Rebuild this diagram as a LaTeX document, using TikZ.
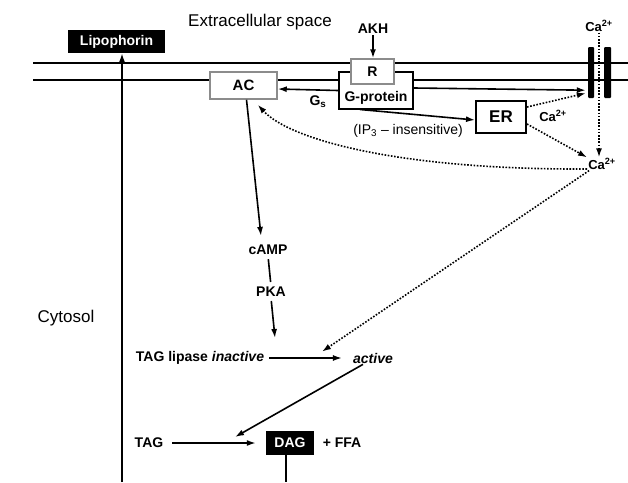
\documentclass[tikz,border=0pt]{standalone}
\usepackage{fontspec}
\setmainfont{Liberation Sans}
\usetikzlibrary{arrows.meta,calc}
\begin{document}
\begin{tikzpicture}[x=1pt,y=-1pt,
  lbl/.style={font=\fontsize{14}{16}\selectfont\bfseries, inner sep=1pt},
  big/.style={font=\fontsize{17}{20}\selectfont, inner sep=1pt},
  plain/.style={font=\fontsize{14}{16}\selectfont, inner sep=1pt},
  graybox/.style={draw=black!45, line width=1.5pt, fill=white, inner sep=0pt, font=\fontsize{14}{16}\selectfont\bfseries},
  blackbox/.style={draw=black, line width=2pt, fill=white, inner sep=0pt},
  darkbox/.style={fill=black, text=white, inner sep=0pt, font=\fontsize{14}{16}\selectfont\bfseries},
  chbar/.style={fill=black, inner sep=0pt, rounded corners=1pt},
  arr/.style={line width=1.6pt, -{Latex[length=9pt,width=6pt]}},
  dotarr/.style={line width=1.6pt, dash pattern=on 1.6pt off 1.6pt, -{Latex[length=9pt,width=6pt]}},
  memb/.style={line width=2pt}
]
\fill[white] (0,0) rectangle (628,482);
\useasboundingbox (0,0) rectangle (628,482);

% membrane
\coordinate (m1l) at (33,63);  \coordinate (m1r) at (628,63);
\coordinate (m2l) at (33,80);  \coordinate (m2r) at (628,80);
\draw[memb] (m1l) -- (m1r);
\draw[memb] (m2l) -- (m2r);

% texts
\node[big] (ext) at (260,22) {Extracellular space};
\node[big] (cyto) at (66,318) {Cytosol};

% boxes
\node[darkbox, minimum width=97, minimum height=23] (lipo) at (116.5,41.5) {Lipophorin};
\node[graybox, minimum width=67, minimum height=27, font=\fontsize{15}{17}\selectfont\bfseries] (ac) at (243.5,85.5) {AC};
\node[blackbox, minimum width=74, minimum height=37] (gp) at (376,90) {};
\node[lbl] (gptext) at (376,97.5) {G-protein};
\node[graybox, minimum width=43, minimum height=25] (r) at (372.5,71.5) {R};
\node[blackbox, minimum width=50, minimum height=32, font=\fontsize{17}{20}\selectfont\bfseries] (er) at (501,117) {ER};
\node[chbar, minimum width=6, minimum height=51] (ch1) at (591,72.5) {};
\node[chbar, minimum width=7, minimum height=51] (ch2) at (607.5,72.5) {};
\node[darkbox, minimum width=48, minimum height=24] (dag) at (290,443) {DAG};

% labels
\node[lbl] (akh) at (373,29) {AKH};
\node[lbl] (gs) at (318,102) {G\textsubscript{s}};
\node[plain] (ip3) at (408,131) {(IP\textsubscript{3} – insensitive)};
\node[lbl, font=\fontsize{13}{15}\selectfont\bfseries] (ca1) at (599,26) {Ca\textsuperscript{2+}};
\node[lbl, font=\fontsize{13}{15}\selectfont\bfseries] (ca2) at (553,116) {Ca\textsuperscript{2+}};
\node[lbl, font=\fontsize{13}{15}\selectfont\bfseries] (ca3) at (602,164) {Ca\textsuperscript{2+}};
\node[lbl] (camp) at (268,250) {cAMP};
\node[lbl] (pka) at (271,292) {PKA};
\node[lbl] (tagl) at (200,358) {TAG lipase \textit{inactive}};
\node[lbl] (act) at (373,358) {\textit{active}};
\node[lbl] (tag) at (149,443) {TAG};
\node[lbl] (ffa) at (342,443) {+ FFA};

% free ends
\coordinate (lipobot) at (122,482);
\coordinate (pkaend) at (275,338);
\coordinate (join) at (235,437);
\coordinate (dagbot) at (286,482);

% connectors
\draw[arr] (lipobot) -- (lipo.south -| lipobot);
\draw[arr] (akh.south) -- (r.north -| akh.south);
\draw[arr] ([yshift=-0.5pt]gp.west) -- ([yshift=-3.5pt]ac.east);
\draw[arr] ([yshift=2pt]gp.east) -- ([xshift=-2pt,yshift=8pt]ch1.south west);
\draw[arr] ([xshift=-16pt]gp.south) -- ([yshift=-3pt]er.west);
\draw[dotarr] ([yshift=-7pt]er.north east) -- ([xshift=-2pt,yshift=5pt]ch1.south west);
\draw[dotarr] ([yshift=10pt]er.south east) -- (ca3.north west);
\draw[dotarr] (ca1.south) -- (ca3.north -| ca1.south);
\draw[dotarr] ([yshift=-5pt]ca3.west) .. controls (400,170) and (290,140) .. ([xshift=-20pt,yshift=-5pt]ac.south east);
\draw[dotarr] ([xshift=2pt]ca3.south west) -- ([xshift=-30pt]act.north west);
\draw[arr] ([xshift=3pt]ac.south) -- ([xshift=-7pt,yshift=8pt]camp.north);
\draw[line width=1.6pt, shorten <=3pt, shorten >=4pt] (camp.south) -- (pka.north);
\draw[arr, shorten <=3pt] (pka.south) -- (pkaend);
\draw[arr, shorten <=4pt, shorten >=10pt] (tagl.east) -- (act.west);
\draw[arr] ([xshift=-10pt]act.south) -- (join);
\draw[arr, shorten <=8pt, shorten >=10pt] (tag.east) -- (dag.west);
\draw[line width=1.6pt] ([xshift=-4pt]dag.south) -- (dagbot);
\end{tikzpicture}
\end{document}
